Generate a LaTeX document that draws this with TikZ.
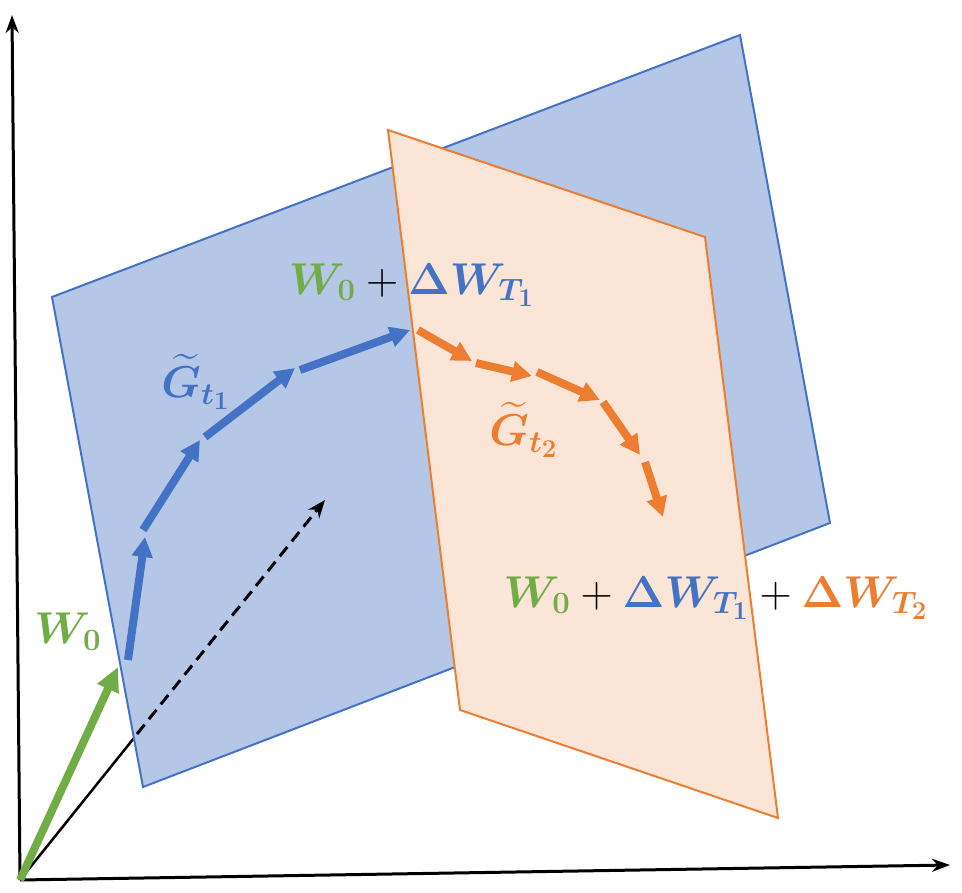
\documentclass[tikz,border=0pt]{standalone}
\usepackage{amsmath,bm}
\usetikzlibrary{arrows.meta}
\definecolor{bluefill}{RGB}{180,199,231}
\definecolor{blueline}{RGB}{68,114,196}
\definecolor{orfill}{RGB}{251,229,214}
\definecolor{orline}{RGB}{237,125,49}
\definecolor{grn}{RGB}{112,173,71}
\begin{document}
\begin{tikzpicture}
  [
    x=1pt, y=-1pt,
    plane/.style = {line width=2pt},
    axis/.style = {line width=3pt, -{Stealth[length=18pt,width=13pt]}},
    step_arrow/.style = {line width=8pt, -{Triangle[length=20pt,width=20pt]}},
    lbl/.style = {font=\huge, scale=2.15, transform shape, inner sep=0pt}
  ]
\useasboundingbox (0,0) rectangle (962,893);

\coordinate (o) at (20,880);

% blue plane and the black vector below it
\draw [line width=2.5pt] (o) -- (134,738);
\draw [plane, draw=blueline, fill=bluefill] (52,297) -- (740,35) -- (830,523) -- (143,787) -- cycle;
\draw [line width=3pt, dash pattern=on 12pt off 7pt, -{Stealth[length=18pt,width=14pt]}] (137,734) -- (325,500);

% orange plane
\draw [plane, draw=orline, fill=orfill] (388,130) -- (705,237) -- (778,818) -- (460,710) -- cycle;

% axes
\draw [axis] (o) -- (12,15);
\draw [axis] (o) -- (950,865);

% initial weights
\draw [line width=8pt, grn, -{Triangle[length=24pt,width=22pt]}] (o) -- (118,667);

% first task steps
\foreach \a/\b in {{128,660}/{145,537}, {143,530}/{200,440}, {205,437}/{295,368}, {300,370}/{410,330}}
  \draw [step_arrow, blueline] (\a) -- (\b);

% second task steps
\foreach \a/\b in {{418,330}/{472,361}, {476,363}/{532,376}, {537,372}/{600,400}, {603,402}/{640,455}, {645,462}/{663,517}}
  \draw [step_arrow, orline] (\a) -- (\b);

% labels
\node [lbl] (w0) at (68,632) {$\color{grn}\bm{W_0}$};
\node [lbl] (wt1) at (412,285) {$\color{grn}\bm{W_0}\color{black}+\color{blueline}\bm{\Delta W_{T_1}}$};
\node [lbl] (g1) at (196,382) {$\color{blueline}\bm{\widetilde{G}_{t_1}}$};
\node [lbl] (g2) at (524,430) {$\color{orline}\bm{\widetilde{G}_{t_2}}$};
\node [lbl] (wt2) at (716,598) {$\color{grn}\bm{W_0}\color{black}+\color{blueline}\bm{\Delta W_{T_1}}\color{black}+\color{orline}\bm{\Delta W_{T_2}}$};
\end{tikzpicture}
\end{document}
